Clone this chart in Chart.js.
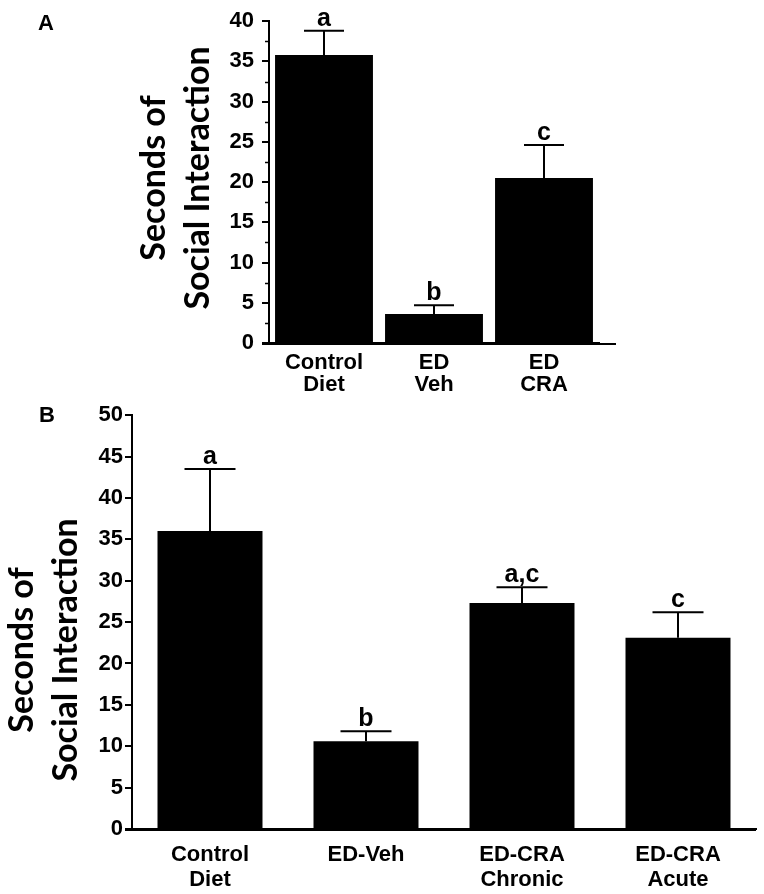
<!DOCTYPE html>
<html>
<head>
<meta charset="utf-8">
<script src="https://cdn.jsdelivr.net/npm/chart.js@4"></script>
<style>
  body { margin: 0; background: #fff; }
  #wrap { position: relative; width: 764px; height: 894px; }
  canvas { position: absolute; left: 0; }
</style>
</head>
<body>
<div id="wrap">
  <canvas id="chartA" width="764" height="400" style="top:0"></canvas>
  <canvas id="chartB" width="764" height="494" style="top:400px"></canvas>
</div>
<script>
// Panel A data
const catsA = [['Control', 'Diet'], ['ED', 'Veh'], ['ED', 'CRA']];
const meanA = [35.8, 3.6, 20.5];
const semA = [3.0, 1.1, 4.1];
const sigA = ['a', 'b', 'c'];

// Panel B data
const catsB = [['Control', 'Diet'], 'ED-Veh', ['ED-CRA', 'Chronic'], ['ED-CRA', 'Acute']];
const meanB = [36.0, 10.6, 27.3, 23.1];
const semB = [7.5, 1.2, 1.9, 3.1];
const sigB = ['a', 'b', 'a,c', 'c'];

const ARIAL = "'Liberation Sans', Arial, sans-serif";
const TITLE_FONT = "bold 34px Lato, 'Open Sans', sans-serif";

// error bars + letters + panel label + axis title
function decorPlugin(sem, sig, cap, panel, titlePos, minor, axisExt) {
    return {
        id: 'decor' + panel,
        afterDatasetsDraw(chart) {
            const ctx = chart.ctx;
            const y = chart.scales.y;
            const area = chart.chartArea;
            const meta = chart.getDatasetMeta(0);
            const vals = chart.data.datasets[0].data;
            ctx.save();
            ctx.strokeStyle = '#000';
            ctx.lineWidth = 2;
            ctx.fillStyle = '#000';
            // x axis line runs a little past the plot on both sides
            ctx.beginPath();
            ctx.moveTo(area.left - 7, area.bottom + 1);
            ctx.lineTo(area.right + axisExt, area.bottom + 1);
            ctx.stroke();
            ctx.font = 'bold 25px ' + ARIAL;
            ctx.textAlign = 'center';
            ctx.textBaseline = 'alphabetic';
            meta.data.forEach((bar, i) => {
                const top = y.getPixelForValue(vals[i] + sem[i]);
                const base = y.getPixelForValue(vals[i]);
                ctx.beginPath();
                ctx.moveTo(bar.x, base);
                ctx.lineTo(bar.x, top);
                ctx.moveTo(bar.x - cap / 2, top);
                ctx.lineTo(bar.x + cap / 2, top);
                ctx.stroke();
                ctx.fillText(sig[i], bar.x, top - 5);
            });
            // minor ticks
            if (minor) {
                ctx.lineWidth = 1.5;
                ctx.beginPath();
                for (let v = minor; v < y.max; v += minor * 2) {
                    const py = Math.round(y.getPixelForValue(v)) + 0.5;
                    ctx.moveTo(area.left, py);
                    ctx.lineTo(area.left - 4, py);
                }
                ctx.stroke();
            }
            // panel letter
            ctx.font = 'bold 22px ' + ARIAL;
            ctx.textAlign = 'left';
            ctx.fillText(panel, titlePos.px, titlePos.py);
            // y title, two lines rotated
            ctx.font = TITLE_FONT;
            ctx.textAlign = 'center';
            ctx.textBaseline = 'middle';
            ctx.translate(titlePos.x1, titlePos.y);
            ctx.rotate(-Math.PI / 2);
            ctx.fillText('Seconds of', 0, 0);
            ctx.restore();
            ctx.save();
            ctx.fillStyle = '#000';
            ctx.font = TITLE_FONT;
            ctx.textAlign = 'center';
            ctx.textBaseline = 'middle';
            ctx.translate(titlePos.x2, titlePos.y);
            ctx.rotate(-Math.PI / 2);
            ctx.fillText('Social Interaction', 0, 0);
            ctx.restore();
        }
    };
}

function makeChart(id, cats, vals, opts) {
    return new Chart(document.getElementById(id), {
        type: 'bar',
        data: {
            labels: cats,
            datasets: [{
                data: vals,
                backgroundColor: '#000',
                borderWidth: 0,
                categoryPercentage: 1,
                barPercentage: opts.barPct
            }]
        },
        options: {
            responsive: false,
            animation: false,
            events: [],
            layout: { padding: opts.padding },
            plugins: { legend: { display: false }, tooltip: { enabled: false } },
            scales: {
                x: {
                    grid: { display: false },
                    border: { display: true, color: '#000', width: 2 },
                    ticks: {
                        color: '#000',
                        padding: opts.xPad,
                        maxRotation: 0,
                        autoSkip: false,
                        font: { family: ARIAL, size: 22, weight: 'bold', lineHeight: opts.xLine }
                    },
                    afterFit: s => { s.height = opts.xHeight; }
                },
                y: {
                    min: 0,
                    max: opts.yMax,
                    grid: {
                        drawOnChartArea: false,
                        color: '#000',
                        lineWidth: 2,
                        tickLength: 7
                    },
                    border: { display: true, color: '#000', width: 2 },
                    ticks: {
                        stepSize: 5,
                        color: '#000',
                        padding: opts.yPad,
                        font: { family: ARIAL, size: 22, weight: 'bold' }
                    },
                    afterFit: s => { s.width = 60; }
                }
            }
        },
        plugins: [decorPlugin(opts.sem, opts.sig, opts.cap, opts.panel, opts.titlePos, opts.minor, opts.axisExt)]
    });
}

makeChart('chartA', catsA, meanA, {
    yMax: 40,
    barPct: 0.89,
    padding: { left: 209, right: 165, top: 19, bottom: 0 },
    xHeight: 57,
    xPad: 1,
    xLine: 1.0,
    yPad: 8,
    sem: semA,
    sig: sigA,
    cap: 40,
    panel: 'A',
    minor: 2.5,
    axisExt: 17,
    titlePos: { px: 38, py: 30, x1: 154, x2: 198, y: 178 }
});

makeChart('chartB', catsB, meanB, {
    yMax: 50,
    barPct: 0.673,
    padding: { left: 72, right: 8, top: 15, bottom: 0 },
    xHeight: 65,
    xPad: 5,
    xLine: 1.15,
    yPad: 2,
    sem: semB,
    sig: sigB,
    cap: 51,
    panel: 'B',
    minor: 0,
    axisExt: 0,
    titlePos: { px: 39, py: 22, x1: 22, x2: 66, y: 250 }
});
</script>
</body>
</html>
